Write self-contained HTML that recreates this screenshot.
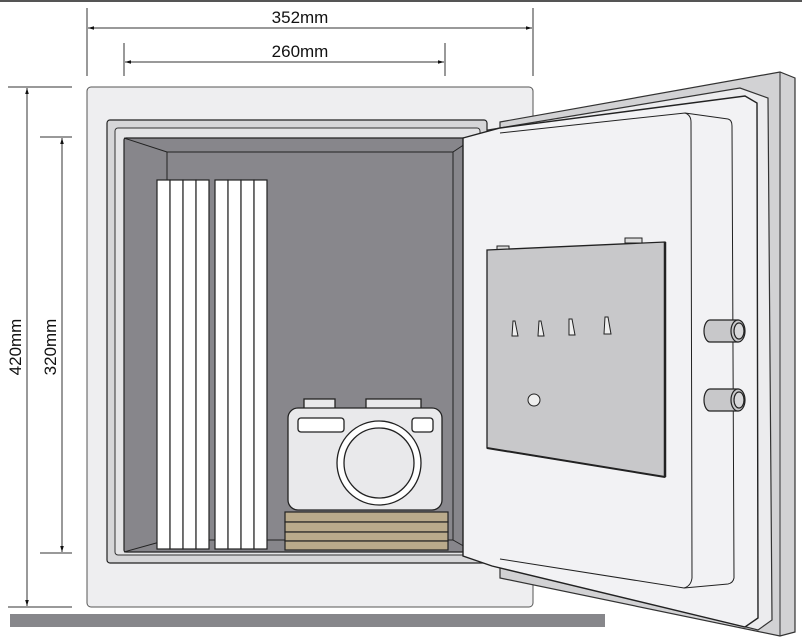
<!DOCTYPE html>
<html><head><style>html,body{margin:0;padding:0;background:#fff}svg{display:block}</style></head>
<body>
<svg width="802" height="640" viewBox="0 0 802 640" xmlns="http://www.w3.org/2000/svg" font-family="Liberation Sans, sans-serif">
<rect x="0" y="0" width="802" height="2" fill="#555"/>
<defs>
<marker id="ar" viewBox="0 0 10 10" refX="10" refY="5" markerWidth="8" markerHeight="6" orient="auto-start-reverse"><path d="M0,2 L10,5 L0,8 z" fill="#111"/></marker>
</defs>
<g stroke="#333" stroke-width="1" fill="none">
<line x1="87" y1="8" x2="87" y2="76"/><line x1="533" y1="8" x2="533" y2="76"/>
<line x1="88" y1="28" x2="532" y2="28" marker-start="url(#ar)" marker-end="url(#ar)"/>
<line x1="124" y1="43" x2="124" y2="76"/><line x1="445" y1="43" x2="445" y2="76"/>
<line x1="125" y1="62" x2="444" y2="62" marker-start="url(#ar)" marker-end="url(#ar)"/>
<line x1="8" y1="87" x2="72" y2="87"/><line x1="8" y1="607" x2="72" y2="607"/>
<line x1="27" y1="88" x2="27" y2="606" marker-start="url(#ar)" marker-end="url(#ar)"/>
<line x1="40" y1="137" x2="72" y2="137"/><line x1="40" y1="553" x2="72" y2="553"/>
<line x1="62" y1="138" x2="62" y2="552" marker-start="url(#ar)" marker-end="url(#ar)"/>
</g>
<g font-size="17" fill="#111" text-anchor="middle">
<text x="300" y="23">352mm</text>
<text x="300" y="57">260mm</text>
<text transform="translate(21,347) rotate(-90)">420mm</text>
<text transform="translate(56,347) rotate(-90)">320mm</text>
</g>
<rect x="10" y="614" width="595" height="13" fill="#87878b"/>
<rect x="87" y="87" width="446" height="520" rx="4" fill="#eeeef0" stroke="#555" stroke-width="1"/>
<rect x="107" y="120" width="380" height="443" rx="3" fill="#d6d6d8" stroke="#222" stroke-width="1.2"/>
<rect x="115" y="128" width="365" height="427" rx="3" fill="#e4e4e6" stroke="#333"/>
<rect x="124" y="138" width="350" height="414" rx="2" fill="#87868b" stroke="#222" stroke-width="1.2"/>
<g stroke="#222" stroke-width="1" fill="none">
<rect x="167" y="152" width="286" height="388" fill="#88878c"/>
<line x1="124" y1="138" x2="167" y2="152"/><line x1="474" y1="138" x2="453" y2="152"/>
<line x1="124" y1="552" x2="167" y2="540"/><line x1="474" y1="552" x2="453" y2="540"/>
</g>
<g fill="#fff" stroke="#222" stroke-width="1.2">
<rect x="157" y="180" width="13" height="369"/><rect x="170" y="180" width="13" height="369"/><rect x="183" y="180" width="13" height="369"/><rect x="196" y="180" width="13" height="369"/>
<rect x="215" y="180" width="13" height="369"/><rect x="228" y="180" width="13" height="369"/><rect x="241" y="180" width="13" height="369"/><rect x="254" y="180" width="13" height="369"/>
</g>
<g fill="#b9aa8b" stroke="#222" stroke-width="1.2">
<rect x="285" y="512" width="163" height="10"/><rect x="285" y="522" width="163" height="10"/><rect x="285" y="532" width="163" height="9"/><rect x="285" y="541" width="163" height="9"/>
</g>
<g stroke="#222" stroke-width="1.3" fill="#e9e9eb">
<rect x="304" y="399" width="31" height="10"/><rect x="366" y="399" width="55" height="10"/>
<rect x="288" y="408" width="154" height="102" rx="10"/>
<rect x="298" y="418" width="46" height="14" rx="3" fill="#fff"/>
<rect x="412" y="418" width="21" height="14" rx="3" fill="#fff"/>
<circle cx="379" cy="463" r="42" fill="#fff"/>
<circle cx="379" cy="463" r="35"/>
</g>
<polygon points="500,122 780,72 795,78 795,632 780,636 500,578" fill="#d2d2d4" stroke="#333" stroke-width="1.2"/>
<line x1="780" y1="72" x2="780" y2="636" stroke="#333"/>
<polygon points="488,130 740,88 768,98 772,620 758,630 488,562" fill="#ececee" stroke="#333" stroke-width="1.2"/>
<polygon points="463,138 500,128 745,96 757,103 758,618 745,627 492,566 463,556" fill="#f2f2f4" stroke="#222" stroke-width="1.4"/>
<path d="M500,133 L685,113 Q691,115 691,122 L692,578 Q691,586 684,588 L500,559" fill="none" stroke="#222" stroke-width="1"/>
<path d="M685,113 L728,119 Q732,120 732,126 L734,578 Q733,583 728,584 L684,588" fill="none" stroke="#222" stroke-width="1"/>
<rect x="497" y="246" width="12" height="5" fill="#ddd" stroke="#222"/>
<rect x="625" y="238" width="17" height="5" fill="#ddd" stroke="#222"/>
<polygon points="487,250 665,242 665,477 487,448" fill="#c8c8ca" stroke="#222" stroke-width="1.3"/>
<line x1="665" y1="242" x2="665" y2="477" stroke="#222" stroke-width="2.5"/>
<line x1="487" y1="448" x2="665" y2="477" stroke="#222" stroke-width="2"/>
<g fill="#eee" stroke="#222" stroke-width="1">
<path d="M512,336 L513,321 L515,321 L518,336 Z"/>
<path d="M538,336 L539,321 L541,321 L544,336 Z"/>
<path d="M569,335 L569,319 L572,319 L575,335 Z"/>
<path d="M604,334 L605,317 L608,317 L611,334 Z"/>
<circle cx="534" cy="400" r="6"/>
</g>
<g stroke="#222" stroke-width="1.2" fill="#c8c8ca">
<path d="M710,320 L738,320 L738,342 L710,342 A6,11 0 0 1 710,320 Z"/>
<ellipse cx="738" cy="331" rx="7" ry="11"/><ellipse cx="739" cy="331" rx="5" ry="8" fill="#d8d8da"/>
<path d="M710,389 L738,389 L738,411 L710,411 A6,11 0 0 1 710,389 Z"/>
<ellipse cx="738" cy="400" rx="7" ry="11"/><ellipse cx="739" cy="400" rx="5" ry="8" fill="#d8d8da"/>
</g>
</svg>
</body></html>
